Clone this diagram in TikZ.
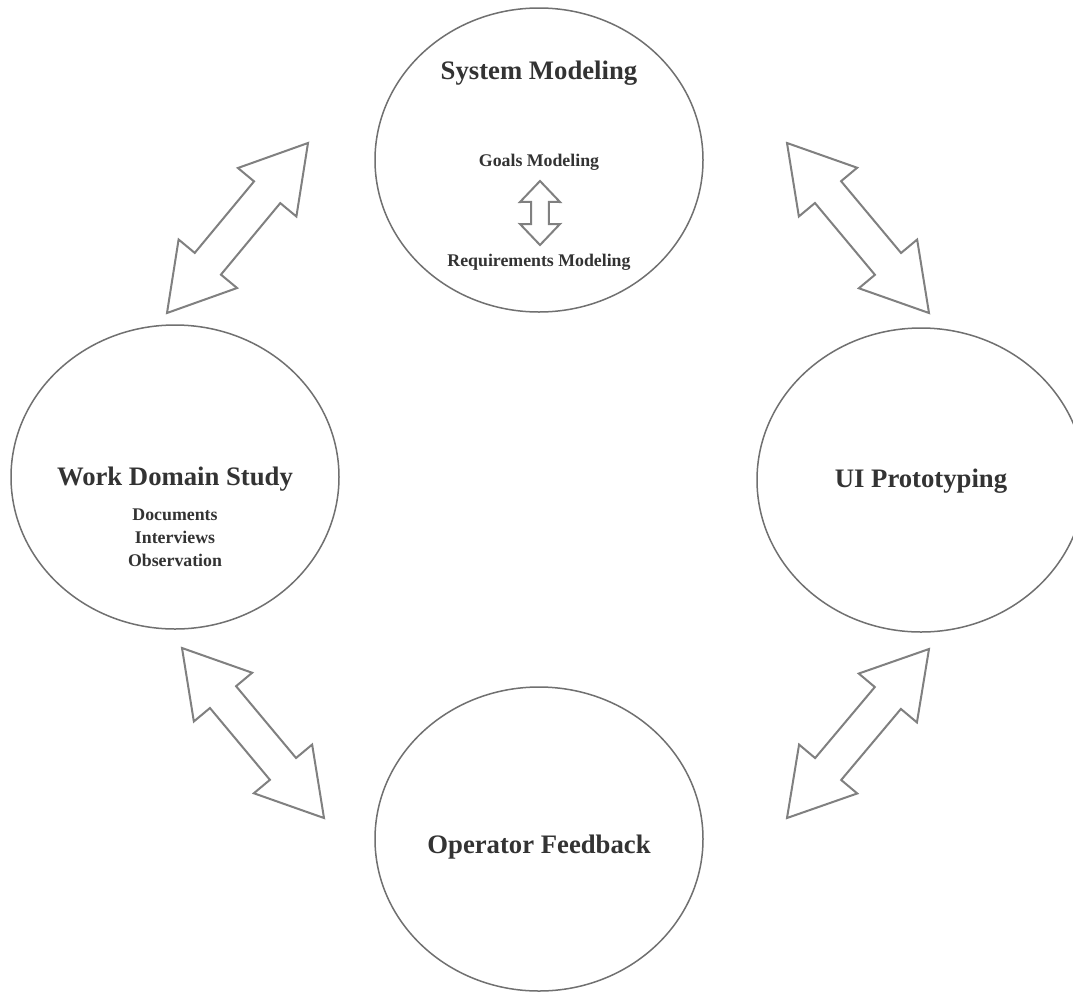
\documentclass[tikz,border=0pt]{standalone}
\usepackage{fontspec}
\setmainfont{Liberation Serif}
\usetikzlibrary{shapes.geometric,calc}

\definecolor{ink}{HTML}{333333}
\definecolor{rim}{HTML}{707070}
\definecolor{arrowgray}{HTML}{808080}

\tikzset{
  stage/.style={ellipse, draw=rim, line width=1.5pt, minimum width=328pt,
                minimum height=304pt, inner sep=0pt},
  title/.style={anchor=base, text=ink, inner sep=0pt,
                font=\fontsize{26.7}{30}\selectfont\bfseries},
  sub/.style={anchor=base, text=ink, inner sep=0pt,
              font=\fontsize{17.8}{20}\selectfont\bfseries},
  blockarrow/.style={draw=arrowgray, line width=2pt, line join=miter, fill=white},
}

% Outlined double-headed block arrow between two named points.
% #3/#4: distance and angle of the head barbs, #5/#6: of the shaft necks.
\newcommand{\dblarrow}[6]{%
  \draw[blockarrow] (#1) -- ($(#1)!#3!#4:(#2)$) -- ($(#1)!#5!#6:(#2)$)
    -- ($(#2)!#5!-#6:(#1)$) -- ($(#2)!#3!-#4:(#1)$) -- (#2)
    -- ($(#2)!#3!#4:(#1)$) -- ($(#2)!#5!#6:(#1)$)
    -- ($(#1)!#5!-#6:(#2)$) -- ($(#1)!#3!-#4:(#2)$) -- cycle;}

\begin{document}
\begin{tikzpicture}[x=1pt, y=-1pt]
  \clip (0,0) rectangle (1073,991);
  \fill[white] (0,0) rectangle (1073,991);

  % the four stages
  \node[stage] (sys) at (539,160) {};
  \node[stage] (wds) at (175,477) {};
  \node[stage] (uip) at (921,480) {};
  \node[stage] (opf) at (539,839) {};

  % System Modeling
  \node[title] (sysT) at (539,79.5) {System Modeling};
  \node[sub] (goals) at (539,166.7) {Goals Modeling};
  \node[sub] (reqs) at (539,266.7) {Requirements Modeling};
  \coordinate (g1) at (540,181);
  \coordinate (g2) at (540,245);
  \dblarrow{g1}{g2}{29pt}{43.6}{22.8pt}{23.2}

  % Work Domain Study
  \node[title] (wdsT) at (175,485) {Work Domain Study};
  \node[sub] (docs) at (175,520.7) {Documents};
  \node[sub] (intv) at (175,543.3) {Interviews};
  \node[sub] (obs) at (175,566.5) {Observation};

  % UI Prototyping and Operator Feedback
  \node[title] (uipT) at (921,487.3) {UI Prototyping};
  \node[title] (opfT) at (539,853.3) {Operator Feedback};

  % connectors between the stages
  \coordinate (a1s) at (167,313); \coordinate (a1e) at (308,143);
  \coordinate (a2s) at (787,143); \coordinate (a2e) at (929,313);
  \coordinate (a3s) at (182,648); \coordinate (a3e) at (324,818);
  \coordinate (a4s) at (787,818); \coordinate (a4e) at (929,649);
  \dblarrow{a1s}{a1e}{74.4pt}{30.7}{66.2pt}{14.9}
  \dblarrow{a2s}{a2e}{74.4pt}{30.7}{66.2pt}{14.9}
  \dblarrow{a3s}{a3e}{74.4pt}{30.7}{66.2pt}{14.9}
  \dblarrow{a4s}{a4e}{74.4pt}{30.7}{66.2pt}{14.9}
\end{tikzpicture}
\end{document}
